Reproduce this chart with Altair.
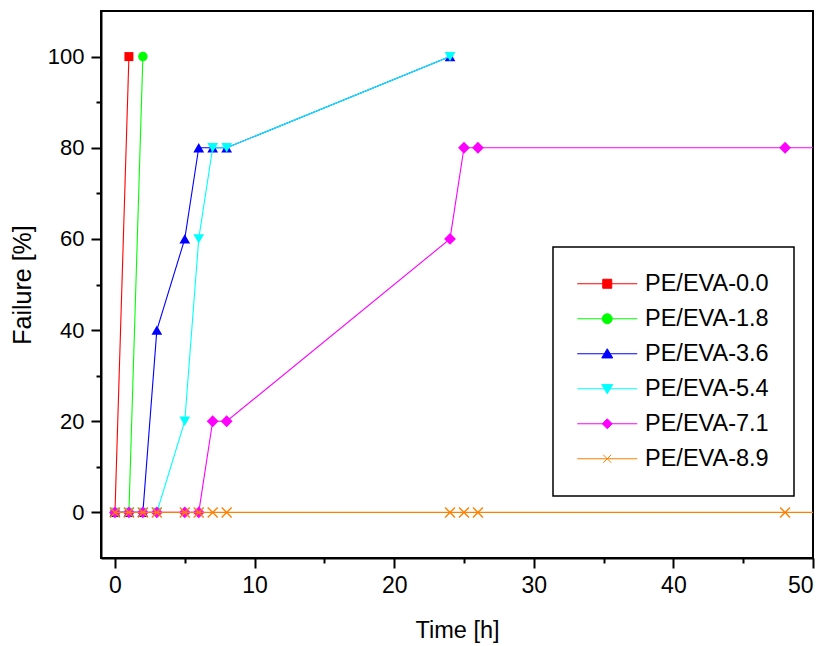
import altair as alt
import pandas as pd

# Series definitions: name, colour, marker
series_names = ["PE/EVA-0.0", "PE/EVA-1.8", "PE/EVA-3.6", "PE/EVA-5.4", "PE/EVA-7.1", "PE/EVA-8.9"]
series_colors = ["#ff0000", "#00ff00", "#0000ff", "#00ffff", "#ff00ff", "#ff8000"]

CROSS = "M-1,-1L1,1M-1,1L1,-1"
marker_shapes = ["square", "circle", "triangle-up", "triangle-down", "diamond", CROSS]
marker_sizes = [81, 90, 115, 115, 140, 100]

# Legend glyphs: a short line with the marker in its middle (unit = half the symbol size)
legend_symbols = [
    "M-3,0H3M-0.45,-0.45H0.45V0.45H-0.45Z",
    "M-3,0H3M0.5,0A0.5,0.5 0 1,1 -0.5,0A0.5,0.5 0 1,1 0.5,0Z",
    "M-3,0H3M0,-0.5L0.55,0.42L-0.55,0.42Z",
    "M-3,0H3M0,0.5L0.55,-0.42L-0.55,-0.42Z",
    "M-3,0H3M-0.5,0L0,-0.5L0.5,0L0,0.5Z",
    "M-3,0H3M-0.4,-0.4L0.4,0.4M-0.4,0.4L0.4,-0.4",
]

# Measured failure fraction over time
time_00 = [0, 1]
fail_00 = [0, 100]

time_18 = [0, 1, 2]
fail_18 = [0, 0, 100]

time_36 = [0, 1, 2, 3, 5, 6, 7, 8, 24]
fail_36 = [0, 0, 0, 40, 60, 80, 80, 80, 100]

time_54 = [0, 1, 2, 3, 5, 6, 7, 8, 24]
fail_54 = [0, 0, 0, 0, 20, 60, 80, 80, 100]

time_71 = [0, 1, 2, 3, 5, 6, 7, 8, 24, 25, 26, 48, 72]
fail_71 = [0, 0, 0, 0, 0, 0, 20, 20, 60, 80, 80, 80, 80]

time_89 = [0, 1, 2, 3, 5, 6, 7, 8, 24, 25, 26, 48, 72]
fail_89 = [0, 0, 0, 0, 0, 0, 0, 0, 0, 0, 0, 0, 0]

all_times = [time_00, time_18, time_36, time_54, time_71, time_89]
all_fails = [fail_00, fail_18, fail_36, fail_54, fail_71, fail_89]

rows = []
for name, ts, fs in zip(series_names, all_times, all_fails):
    for t, f in zip(ts, fs):
        rows.append({"series": name, "time": t, "failure": f})
df = pd.DataFrame(rows)

x_major = [0, 10, 20, 30, 40, 50]
x_minor = [5, 15, 25, 35, 45]
y_major = [0, 20, 40, 60, 80, 100]
y_minor = [10, 30, 50, 70, 90]

x_scale = alt.Scale(domain=[-1, 50], nice=False, zero=False)
y_scale = alt.Scale(domain=[-10, 110], nice=False, zero=False)

x_main = alt.X("time:Q", scale=x_scale, axis=alt.Axis(
    values=x_major, title="Time [h]", orient="bottom", tickSize=10,
    labelPadding=6, labelFontSize=23, titleFontSize=23.5,
    titleY=72, titleBaseline="middle"))
y_main = alt.Y("failure:Q", scale=y_scale, axis=alt.Axis(
    values=y_major, title="Failure [%]", orient="left", tickSize=10,
    labelPadding=7, labelFontSize=22, titleFontSize=25,
    titleX=-79, titleBaseline="middle"))

base = alt.Chart(df)
data_layers = []
for name, color, shape, size in zip(series_names, series_colors, marker_shapes, marker_sizes):
    sub = base.transform_filter(alt.datum.series == name)
    line = sub.mark_line(strokeWidth=1.1, clip=True).encode(
        x=x_main, y=y_main, color=alt.value(color), order="time:Q")
    is_cross = shape == CROSS
    pts = sub.mark_point(
        shape=shape, size=size, filled=not is_cross, opacity=1,
        strokeWidth=1.4 if is_cross else 1, clip=True,
    ).encode(x=x_main, y=y_main, color=alt.value(color))
    data_layers += [line, pts]

main = alt.layer(*data_layers)

# Minor ticks on both axes
minor = base.mark_point(opacity=0).encode(
    x=alt.X("time:Q", scale=x_scale, axis=alt.Axis(
        values=x_minor, labels=False, domain=False, title=None, tickSize=5, orient="bottom")),
    y=alt.Y("failure:Q", scale=y_scale, axis=alt.Axis(
        values=y_minor, labels=False, domain=False, title=None, tickSize=5, orient="left")),
)

legend_def = alt.Legend(
    title=None, orient="none", legendX=452, legendY=236,
    symbolSize=400, symbolStrokeWidth=1, symbolOffset=17.5, labelOffset=26,
    labelFontSize=23.5, labelFont="Liberation Sans", labelColor="black",
    padding=25, rowPadding=10, fillColor="white", strokeColor="black",
)
legend_layer = base.transform_filter("false").mark_point(filled=True, strokeWidth=1, opacity=1).encode(
    shape=alt.Shape("series:N", scale=alt.Scale(domain=series_names, range=legend_symbols), legend=legend_def),
    fill=alt.Fill("series:N", scale=alt.Scale(domain=series_names, range=series_colors), legend=legend_def),
    stroke=alt.Stroke("series:N", scale=alt.Scale(domain=series_names, range=series_colors), legend=legend_def),
)

chart = alt.layer(main, minor, legend_layer).resolve_axis(
    x="independent", y="independent"
).properties(
    width=712, height=547,
    autosize=alt.AutoSizeParams(type="none"),
    padding={"left": 101, "top": 11, "right": 16, "bottom": 88},
    background="white",
).configure_view(
    stroke="black", strokeWidth=2
).configure_axis(
    grid=False, domainColor="black", domainWidth=2, tickColor="black", tickWidth=2,
    labelFont="Liberation Sans", labelColor="black",
    titleFont="Liberation Sans", titleFontWeight="normal", titleColor="black",
).configure_legend(
    strokeWidth=1.5
)

chart.save("out.html", embed_options={"renderer": "svg", "actions": False})
